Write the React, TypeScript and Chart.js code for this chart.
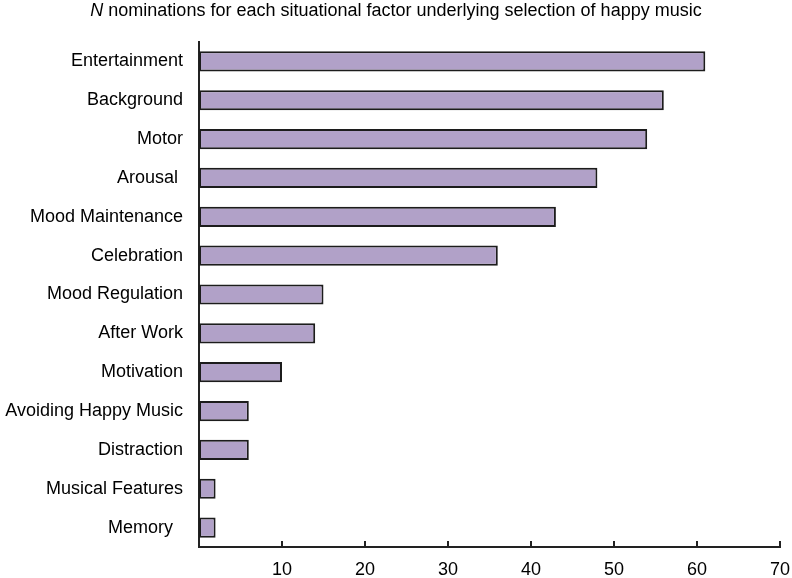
import React, { useEffect, useRef } from "react";
import { Chart, registerables } from "chart.js";

Chart.register(...registerables);

const categories = [
  "Entertainment",
  "Background",
  "Motor",
  "Arousal ",
  "Mood Maintenance",
  "Celebration",
  "Mood Regulation",
  "After Work",
  "Motivation",
  "Avoiding Happy Music",
  "Distraction",
  "Musical Features",
  "Memory  ",
];
const nominations = [61, 56, 54, 48, 43, 36, 15, 14, 10, 6, 6, 2, 2];
const xTicks = [0, 10, 20, 30, 40, 50, 60, 70];
const titleItalic = "N";
const titleRest = " nominations for each situational factor underlying selection of happy music";

const FONT = "'Liberation Sans', Arial, sans-serif";

export default function App() {
  const ref = useRef<HTMLCanvasElement | null>(null);

  useEffect(() => {
    document.body.style.margin = "0";
    const canvas = ref.current;
    if (!canvas) return;

    const titlePlugin = {
      id: "mixedTitle",
      afterDraw(chart: any) {
        const ctx = chart.ctx;
        ctx.save();
        ctx.fillStyle = "#000";
        ctx.textBaseline = "middle";
        ctx.font = `italic 18px ${FONT}`;
        const w1 = ctx.measureText(titleItalic).width;
        ctx.font = `18px ${FONT}`;
        const w2 = ctx.measureText(titleRest).width;
        const x0 = chart.width / 2 - (w1 + w2) / 2;
        ctx.font = `italic 18px ${FONT}`;
        ctx.textAlign = "left";
        ctx.fillText(titleItalic, x0, 11);
        ctx.font = `18px ${FONT}`;
        ctx.fillText(titleRest, x0 + w1, 11);
        ctx.restore();
      },
    };

    const innerTicks = {
      id: "innerTicks",
      afterDraw(chart: any) {
        const ctx = chart.ctx;
        const xs = chart.scales.x;
        const bottom = chart.chartArea.bottom;
        ctx.save();
        ctx.strokeStyle = "#222";
        ctx.lineWidth = 2;
        xTicks.forEach((v) => {
          if (v === 0) return;
          const px = Math.round(xs.getPixelForValue(v));
          ctx.beginPath();
          ctx.moveTo(px, bottom);
          ctx.lineTo(px, bottom - 6);
          ctx.stroke();
        });
        ctx.restore();
      },
    };

    const chart = new Chart(canvas, {
      type: "bar",
      data: {
        labels: categories,
        datasets: [
          {
            data: nominations,
            backgroundColor: "#b1a1c8",
            borderColor: "#1c1c1c",
            borderWidth: 2,
            borderSkipped: false,
            barPercentage: 0.52,
            categoryPercentage: 1,
          },
        ],
      },
      options: {
        indexAxis: "y",
        animation: false,
        responsive: false,
        maintainAspectRatio: false,
        layout: { padding: { top: 42, right: 12, left: 0, bottom: 0 } },
        plugins: {
          legend: { display: false },
          tooltip: { enabled: false },
          title: { display: false },
        },
        scales: {
          x: {
            type: "linear",
            min: 0,
            max: 70,
            afterBuildTicks(scale: any) {
              scale.ticks = xTicks.map((v) => ({ value: v }));
            },
            afterFit(scale: any) {
              scale.height = 31;
              scale.paddingRight = 0;
              scale.paddingLeft = 0;
            },
            grid: { display: false },
            border: { display: true, color: "#222", width: 2 },
            ticks: {
              padding: 4,
              color: "#000",
              font: { family: FONT, size: 18 },
              maxRotation: 0,
              callback: (v: any) => (v === 0 ? "" : String(v)),
            },
          },
          y: {
            afterFit(scale: any) {
              scale.width = 199;
            },
            grid: { display: false },
            border: { display: true, color: "#222", width: 2 },
            ticks: {
              padding: 8,
              color: "#000",
              font: { family: FONT, size: 18 },
              autoSkip: false,
            },
          },
        },
      },
      plugins: [titlePlugin, innerTicks],
    });

    return () => chart.destroy();
  }, []);

  return (
    <div style={{ width: 792, height: 578 }}>
      <canvas ref={ref} width={792} height={578} style={{ display: "block" }} />
    </div>
  );
}
